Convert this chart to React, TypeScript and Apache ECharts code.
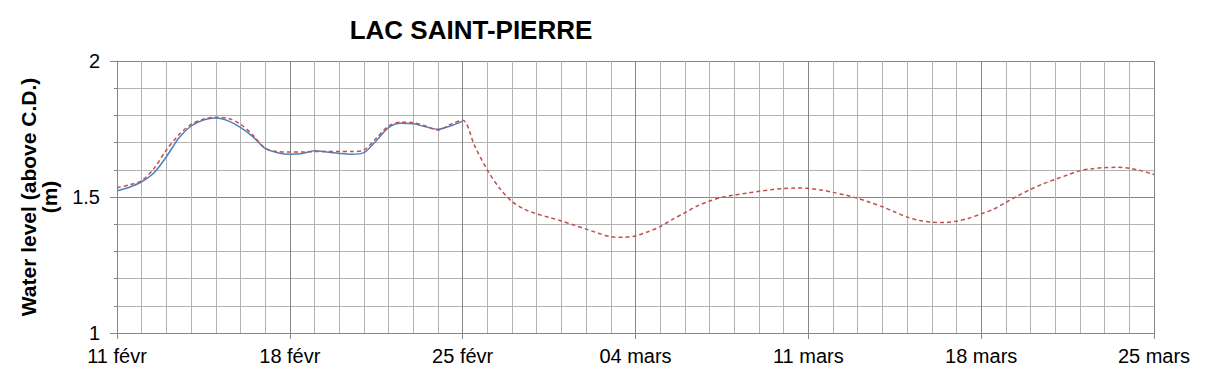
import React, { useEffect, useRef } from "react";
import * as echarts from "echarts";

const title = "LAC SAINT-PIERRE";
const yAxisName = "Water level (above C.D.)\n(m)";
const tickLabels = ["11 févr", "18 févr", "25 févr", "04 mars", "11 mars", "18 mars", "25 mars"];
const step = 0.5; // days between readings
const forecast = [
  1.534, 1.545, 1.56, 1.605, 1.673, 1.728, 1.767, 1.786, 1.793, 1.789,
  1.768, 1.728, 1.679, 1.667, 1.665, 1.665, 1.667, 1.667, 1.667, 1.667,
  1.673, 1.716, 1.761, 1.775, 1.773, 1.761, 1.746, 1.767, 1.782, 1.685,
  1.599, 1.532, 1.483, 1.455, 1.438, 1.425, 1.412, 1.397, 1.382, 1.367,
  1.354, 1.352, 1.357, 1.372, 1.391, 1.418, 1.442, 1.467, 1.485, 1.499,
  1.507, 1.514, 1.521, 1.527, 1.531, 1.533, 1.532, 1.526, 1.517, 1.507,
  1.495, 1.48, 1.464, 1.445, 1.426, 1.414, 1.407, 1.406, 1.411, 1.422,
  1.438, 1.455, 1.48, 1.505, 1.528, 1.548, 1.565, 1.581, 1.597, 1.604,
  1.608, 1.609, 1.606, 1.596, 1.583,
];
const observed = [
  1.523, 1.536, 1.556, 1.589, 1.648, 1.716, 1.761, 1.783, 1.79, 1.78,
  1.756, 1.722, 1.679, 1.663, 1.657, 1.66, 1.67, 1.665, 1.66, 1.657,
  1.663, 1.707, 1.755, 1.771, 1.769, 1.758, 1.749, 1.761, 1.779,
];

export default function App() {
  const ref = useRef<HTMLDivElement>(null);
  useEffect(() => {
    document.body.style.margin = "0";
    const chart = echarts.init(ref.current!, null, { renderer: "svg" });
    const font = "'Liberation Sans', Arial, sans-serif";
    chart.setOption({
      animation: false,
      backgroundColor: "#ffffff",
      title: {
        text: title,
        left: 466,
        top: 12,
        textAlign: "center",
        textStyle: { fontFamily: font, fontSize: 26, fontWeight: "bold", color: "#000" },
      },
      grid: { left: 117, right: 55, top: 61, bottom: 45, containLabel: false, outerBoundsMode: "none" },
      xAxis: {
        type: "value",
        min: 0,
        max: (tickLabels.length - 1) * 7,
        interval: 7,
        axisLine: { show: true, lineStyle: { color: "#868686", width: 1 } },
        axisTick: { show: true, length: 6, lineStyle: { color: "#868686" } },
        minorTick: { show: false, splitNumber: 7 },
        splitLine: { show: true, lineStyle: { color: "#868686", width: 1 } },
        minorSplitLine: { show: true, lineStyle: { color: "#b3b3b3", width: 1 } },
        axisLabel: {
          margin: 13,
          fontFamily: font,
          fontSize: 20,
          color: "#000",
          formatter: (v: number) => tickLabels[Math.round(v / 7)] ?? "",
        },
      },
      yAxis: {
        type: "value",
        min: 1,
        max: 2,
        interval: 0.5,
        name: yAxisName,
        nameLocation: "middle",
        nameRotate: 90,
        nameGap: 57,
        nameTextStyle: { fontFamily: font, fontSize: 21, fontWeight: "bold", color: "#000", lineHeight: 21 },
        axisLine: { show: true, lineStyle: { color: "#868686", width: 1 } },
        axisTick: { show: true, length: 7, lineStyle: { color: "#868686" } },
        minorTick: { show: true, splitNumber: 5, length: 3, lineStyle: { color: "#868686" } },
        splitLine: { show: true, lineStyle: { color: "#868686", width: 1 } },
        minorSplitLine: { show: true, lineStyle: { color: "#b3b3b3", width: 1 } },
        axisLabel: {
          margin: 17,
          fontFamily: font,
          fontSize: 20,
          color: "#000",
          formatter: (v: number) => String(v),
        },
      },
      series: [
        {
          name: "Forecast",
          type: "line",
          smooth: 0.3,
          symbol: "none",
          data: forecast.map((v, i) => [i * step, v]),
          lineStyle: { color: "#c0504d", width: 1.5, type: [4, 3] },
          z: 3,
        },
        {
          name: "Observed",
          type: "line",
          smooth: 0.3,
          symbol: "none",
          data: observed.map((v, i) => [i * step, v]),
          lineStyle: { color: "#4f81bd", width: 1.5 },
          z: 2,
        },
      ],
    });
    return () => chart.dispose();
  }, []);
  return <div ref={ref} style={{ width: 1209, height: 378 }} />;
}
